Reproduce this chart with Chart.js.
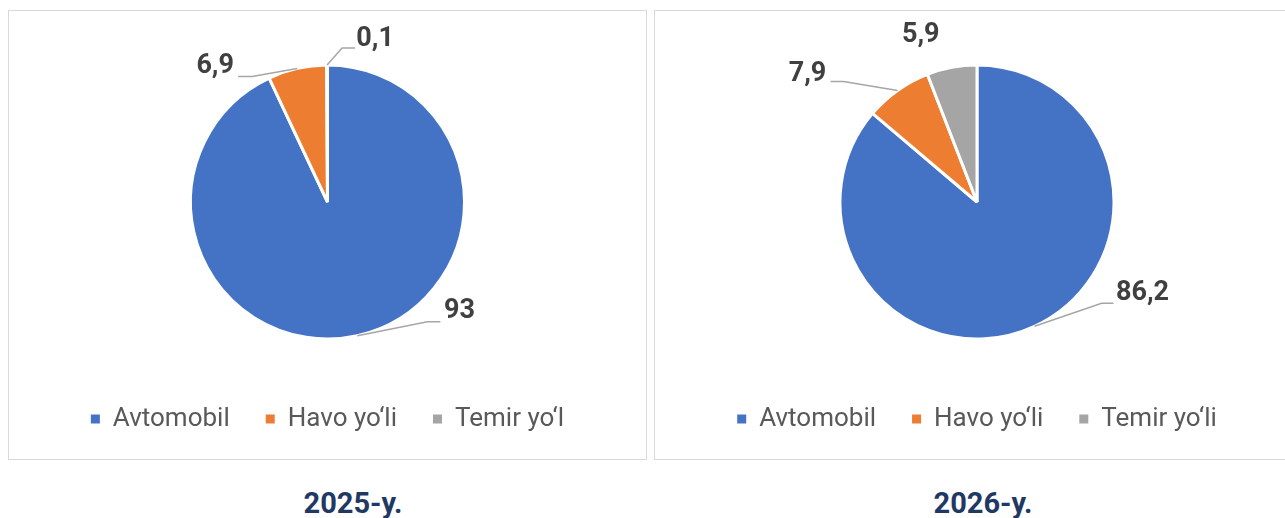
<!DOCTYPE html>
<html>
<head>
<meta charset="utf-8">
<script src="https://cdn.jsdelivr.net/npm/chart.js@4"></script>
<style>
  body { margin: 0; background: #fff; width: 1285px; height: 518px; overflow: hidden; position: relative; }
  .panel { position: absolute; top: 10px; height: 450px; border: 1px solid #d9d9d9; box-sizing: border-box; }
  .panel canvas { position: absolute; left: 0; top: 0; }
  .year { position: absolute; top: 486px; width: 200px; text-align: center; font: bold 29px Roboto, sans-serif; color: #1f3864; }
</style>
</head>
<body>
<div class="panel" style="left:8px;width:639px"><canvas id="chart2025" width="637" height="448"></canvas></div>
<div class="panel" style="left:654px;width:646px"><canvas id="chart2026" width="644" height="448"></canvas></div>
<div class="year" id="title2025" style="left:253px"></div>
<div class="year" id="title2026" style="left:883px"></div>
<script>
// data
const categories2025 = ['Avtomobil', 'Havo yo‘li', 'Temir yo‘l'];
const categories2026 = ['Avtomobil', 'Havo yo‘li', 'Temir yo‘li'];
const values2025 = [93, 6.9, 0.1];
const values2026 = [86.2, 7.9, 5.9];
const yearTitles = ['2025-y.', '2026-y.'];
const colors = ['#4472c4', '#ed7d31', '#a5a5a5'];

// where each value label sits, relative to the middle of its slice edge
// elbow: bend of the leader line, h: horizontal part, text: label centre
const labelPos2025 = [
    { elbow: [70, -14], h: 13, text: [102, -24] },
    { elbow: [-45, 8], h: -14, text: [-82, -2] },
    { elbow: [15, -17], h: 13, text: [48, -26] }
];
const labelPos2026 = [
    { elbow: [67, -23], h: 12, text: [108, -33] },
    { elbow: [-54, -9], h: -13, text: [-90, -16] },
    { elbow: null, h: 0, text: [-31, -32] }
];

document.getElementById('title2025').textContent = yearTitles[0];
document.getElementById('title2026').textContent = yearTitles[1];

const pieLabels = {
    id: 'pieLabels',
    afterDatasetsDraw(chart, args, opts) {
        const ctx = chart.ctx;
        const meta = chart.getDatasetMeta(0);
        const values = chart.data.datasets[0].data;
        ctx.save();
        meta.data.forEach((arc, i) => {
            const p = arc.getProps(['x', 'y', 'startAngle', 'endAngle', 'outerRadius'], true);
            const mid = (p.startAngle + p.endAngle) / 2;
            const rx = p.x + Math.cos(mid) * p.outerRadius;
            const ry = p.y + Math.sin(mid) * p.outerRadius;
            const pos = opts.placements[i];
            if (pos.elbow) {
                const ex = rx + pos.elbow[0];
                const ey = ry + pos.elbow[1];
                ctx.beginPath();
                ctx.moveTo(rx, ry);
                ctx.lineTo(ex, ey);
                ctx.lineTo(ex + pos.h, ey);
                ctx.strokeStyle = '#a6a6a6';
                ctx.lineWidth = 1.5;
                ctx.stroke();
            }
            ctx.fillStyle = '#404040';
            ctx.font = 'bold 27px Roboto, sans-serif';
            ctx.textAlign = 'center';
            ctx.textBaseline = 'middle';
            ctx.fillText(String(values[i]).replace('.', ','), rx + pos.text[0], ry + pos.text[1]);
        });
        ctx.restore();
    }
};

const makePie = (id, labels, values, placements) => {
    new Chart(document.getElementById(id), {
        type: 'pie',
        data: {
            labels: labels,
            datasets: [{
                data: values,
                backgroundColor: colors,
                borderColor: '#ffffff',
                borderWidth: 3,
                radius: 137
            }]
        },
        options: {
            responsive: false,
            animation: false,
            layout: { padding: { top: 23, bottom: 17 } },
            plugins: {
                legend: {
                    position: 'bottom',
                    labels: {
                        boxWidth: 9,
                        boxHeight: 9,
                        padding: 36,
                        color: '#595959',
                        font: { family: 'Roboto', size: 26 },
                        // plain filled squares, no white slice border around them
                        generateLabels: (chart) => {
                            const items = Chart.controllers.pie.overrides.plugins.legend.labels.generateLabels(chart);
                            items.forEach(item => { item.lineWidth = 0; });
                            return items;
                        }
                    }
                },
                tooltip: { enabled: false },
                pieLabels: { placements: placements }
            }
        },
        plugins: [pieLabels]
    });
};

makePie('chart2025', categories2025, values2025, labelPos2025);
makePie('chart2026', categories2026, values2026, labelPos2026);
</script>
</body>
</html>
